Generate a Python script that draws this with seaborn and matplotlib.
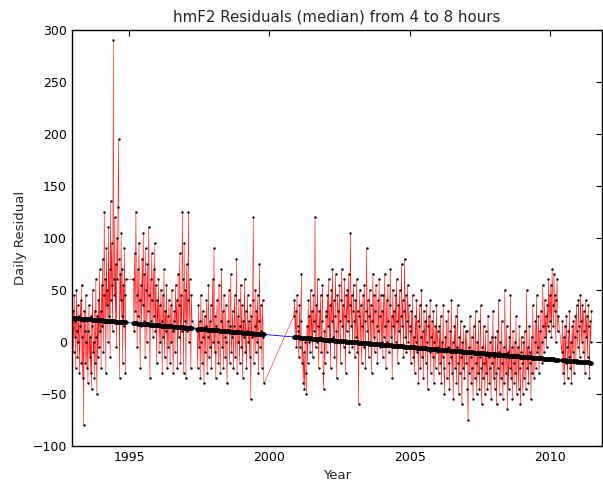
import numpy as np
import pandas as pd
import seaborn as sns
import matplotlib
matplotlib.use('Agg')
import matplotlib.pyplot as plt

# data segments (decimal year span + residual values)
seg_start = [1993.0, 1995.15, 1997.42, 2000.87, 2010.42]
seg_end = [1994.88, 1997.24, 1999.80, 2010.30, 2011.48]

seg1 = [30, -10, 45, 5, 20, -25, 50, 10, -15, 35, 0, 25, -30,
        15, 40, -20, 55, 5, -35, 20, -80, 30, 10, -20, 45, 0,
        -25, 20, -40, 10, 35, -15, 5, -30, 25, -45, 15, 50, -10,
        0, -35, 30, -20, 60, 5, -50, 25, -15, 40, -5, 70, 10,
        30, -25, 55, 15, 80, -10, 45, 125, 20, 60, -30, 90, 35,
        50, 0, 110, 25, 70, -15, 135, 40, 95, 55, 10, 290, 60,
        45, 120, 20, 75, -5, 100, 60, 130, 195, 80, -35, 65, 40,
        105, 25, 70, -20, 55, 15, 90, 45, -30, 60]

seg2 = [60, 10, 85, 30, 125, 45, -5, 70, 25, 95, 40, -25, 55, 15, 80,
        35, 105, 20, 65, -15, 90, 50, 0, 75, 30, 110, 45, -35, 60, 20,
        85, 40, 5, 70, 25, 95, 10, 55, -20, 40,
        15, 60, -10, 35, 0, 50, 20, -30, 45, 5, 70, -15, 30, 10, 55,
        -25, 25, -5, 40, 15, -20, 35, 0, 50, 10, -30, 20,
        30, -10, 55, 15, 40, -25, 65, 5, 35, 85, -20, 45, 10, 125, 60,
        -30, 95, 20, 50, -35, 75, 10, 40, 125, 0, 60, 15, -25, 45, 20]

seg3 = [10, -25, 35, -5, 20, -35, 45, 0, -20, 30, 5, -40, 25, -10,
        15, 40, -30, 5, 55, -15, 20, -5, 35, -25, 10, 60, 0, 90,
        -10, 25, -35, 15, 40, 0, -20, 55, 10, -30, 20, 70, -5, 30,
        -25, 45, 5, -15, 35, 0, -40, 20, 10, 50, -20, 15, 65, -10,
        5, 30, -25, 15, 45, -15, 10, 80, -30, 25, 0, 40, -20, 15,
        55, -5, 35, -35, 20, 5, 60, -10, 30, -25, 10, 45, 0, 20,
        -15, 35, -55, 25, 5, 40, 120, -20, 15, 50, -10, 30,
        0, 45, -30, 20, 75, -5, 35, 10, -25, 40, 5, -40]

seg4 = [25, 40, 5, 30, -5, 45, 15,
        # 2001
        10, -15, 35, -5, 20, 65, -20, 5, -40, -10, -45, 0, -30, -50, 15,
        -20, 40, 0, 25, -10, 50, 5, 30, -15, 45, 10, 20, 120, -5, 35,
        0, 60, 15, -25, 30, 5, 45, -10, 20, 55, -30, -45, 10, -20, 25,
        # 2002
        30, -10, 45, 15, 60, 0, 35, -25, 50, 20, 70, 5, 40, -15, 25,
        65, 10, -35, 45, 30, 0, 55, 20, -20, 40, 70, 15, 35, -5, 60,
        25, -30, 45, 10, 50, 20, 65, -10, 35, 105, 15, 45, -5, 30, 55,
        # 2003
        20, -15, 40, 5, 60, -10, 30, -60, 25, 50, 0, 35, -20, 15, 45,
        -5, 55, 20, -25, 30, 90, 10, 40, -15, 25, 50, 0, 35, -30, 20,
        65, 5, 45, -10, 30, 55, 15, -20, 40, 10, 60, -5, 25, 45, 0,
        # 2004
        30, -15, 45, 5, 65, 15, -25, 40, 0, 55, 20, -10, 35, 70, 5,
        25, -35, 50, 15, 30, -5, 45, 0, 60, 20, -20, 35, 10, 50, -5,
        25, 75, 15, 40, -15, 30, 80, 5, 45, -10, 20, 55, 0, 35, 15,
        # 2005
        10, -20, 30, -5, 45, -15, 5, -30, 25, 0, 40, -10, 20, -40, 15,
        35, -25, 5, 50, -15, 10, -35, 30, -5, 20, -20, 35, 0, -45, 15,
        25, -10, 40, -30, 5, 20, -15, 30, -40, 0, 15, -25, 35, -10, 10,
        # 2006
        -5, -30, 15, -20, 25, -40, 0, -15, 35, -25, -50, 5, -10, 20, -35,
        -5, 30, -20, -45, 10, -15, 40, -30, 0, -55, -10, 15, -25, 25, -40,
        -5, 35, -20, -50, 5, -30, 20, -15, -60, 0, -25, 15, -35, -10, 10,
        # 2007
        -20, 10, -45, -75, -5, -30, 25, -15, -40, 5, -25, -55, 15, -10, -35,
        30, -20, -50, 0, -30, 20, -45, -15, 35, -25, -60, -5, -35, 15, -20,
        -50, 10, -30, -10, -45, 25, -15, -40, 0, -25, -55, 5, -20, 30, -35,
        # 2008
        -15, -45, 5, -30, -60, 10, -25, 40, -10, -50, 0, -35, 20, -20, -55,
        -5, -40, 50, -15, -30, 15, -65, -10, -45, 5, -25, 45, -35, -5, -55,
        10, -20, -40, 0, -30, 25, -50, -15, -5, -45, 15, -25, -60, -10, 5,
        # 2009
        -20, -50, 0, -35, 10, -15, -45, 50, -25, -5, -40, 15, -20, -10, -55,
        5, -30, 35, -15, -35, 0, 20, -25, 45, -10, -5, 25, -30, 10, -15,
        30, 0, -20, 55, 15, -10, 40, 5, 25, -5, 35, 15, 60, 10, 45,
        # 2010
        20, 55, 5, 70, 35, 15, 65, 30, 45, 0, 40, 60, 10, 25]

seg5 = [-10, 20, -30, 5, -40, 15, -20, 25, -5, -35, 10, -15, 30, -25,
        0, -40, 15, -10, 20, -30, 5, 25, -20, 35, 10, -5, 40, 15, -15,
        45, 20, 0, 35, -10, 30, 10, -30, 40, 5, 25, -15, 35, 15, -35,
        20, 0, 30]

# linear trend
trend_y0 = 23.0      # value at 1993.0
trend_slope = -2.33  # per year

segs = [seg1, seg2, seg3, seg4, seg5]
frames = []
for s0, s1, vals in zip(seg_start, seg_end, segs):
    frames.append(pd.DataFrame({'year': np.linspace(s0, s1, len(vals)),
                                'resid': vals}))
df = pd.concat(frames, ignore_index=True)
df['trend'] = trend_y0 + trend_slope * (df['year'] - 1993.0)

sns.set_style('white')
plt.rcParams['font.family'] = ['DejaVu Sans']

fig = plt.figure(figsize=(6.03, 4.82), dpi=100)
ax = fig.add_axes([0.119, 0.075, 0.879, 0.863])

sns.lineplot(data=df, x='year', y='resid', color='red', lw=0.35,
             sort=False, estimator=None, ax=ax, zorder=2)
sns.scatterplot(data=df, x='year', y='resid', color='black', s=3,
                linewidth=0, ax=ax, zorder=3)
sns.lineplot(data=df, x='year', y='trend', color='blue', lw=0.6,
             sort=False, estimator=None, ax=ax, zorder=4)
sns.scatterplot(data=df, x='year', y='trend', color='black', s=9,
                linewidth=0, ax=ax, zorder=5)

ax.set_xlim(1992.95, 2011.85)
ax.set_ylim(-100, 300)
ax.set_xticks([1995, 2000, 2005, 2010])
ax.set_yticks(range(-100, 301, 50))
ax.tick_params(direction='in', top=True, right=True, length=4,
               labelsize=9, colors='black')
for sp in ax.spines.values():
    sp.set_color('black')
    sp.set_linewidth(1.0)

ax.set_title('hmF2 Residuals (median) from 4 to 8 hours', fontsize=10.8)
ax.set_xlabel('Year', fontsize=9.5)
ax.set_ylabel('Daily Residual', fontsize=9.5)

fig.savefig('out.png', dpi=100)
